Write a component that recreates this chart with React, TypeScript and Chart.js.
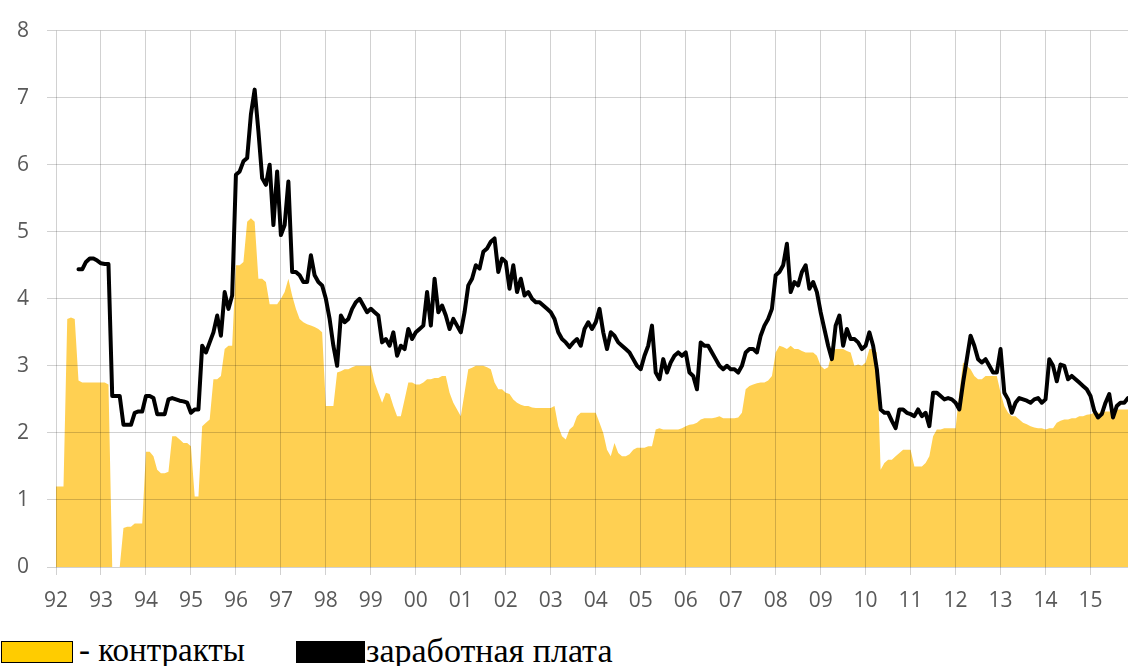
import React, { useEffect, useRef } from 'react';
import { Chart, registerables } from 'chart.js';

Chart.register(...registerables);

// Tick labels (one per January, starting January 1992)
const yearLabels = ['92', '93', '94', '95', '96', '97', '98', '99', '00', '01', '02', '03', '04', '05', '06', '07', '08', '09', '10', '11', '12', '13', '14', '15'];

// Monthly values, January 1992 .. November 2015
const contracts = [
  1.2, 1.2, 1.2, 3.7, 3.72, 3.7, 2.78, 2.75, 2.75, 2.75, 2.75, 2.75,
  2.75, 2.75, 2.72, 0, 0, 0, 0.58, 0.6, 0.6, 0.65, 0.65, 0.65,
  1.72, 1.72, 1.65, 1.45, 1.4, 1.4, 1.42, 1.95, 1.95, 1.9, 1.85, 1.85,
  1.8, 1.05, 1.05, 2.1, 2.15, 2.2, 2.8, 2.8, 2.85, 3.25, 3.3, 3.3,
  4.5, 4.5, 4.55, 5.15, 5.2, 5.15, 4.3, 4.3, 4.25, 3.92, 3.92, 3.92,
  4.0, 4.1, 4.3, 4.05, 3.85, 3.7, 3.65, 3.62, 3.6, 3.58, 3.55, 3.5,
  2.4, 2.4, 2.4, 2.9, 2.92, 2.95, 2.95, 2.98, 3.0, 3.0, 3.0, 3.0,
  3.0, 2.75, 2.6, 2.45, 2.6, 2.58, 2.4, 2.25, 2.25, 2.5, 2.75, 2.75,
  2.72, 2.72, 2.75, 2.8, 2.8, 2.82, 2.82, 2.85, 2.85, 2.6, 2.45, 2.35,
  2.25, 2.6, 2.95, 2.97, 3.0, 3.0, 3.0, 2.98, 2.95, 2.75, 2.65, 2.65,
  2.6, 2.58, 2.5, 2.45, 2.42, 2.4, 2.4, 2.38, 2.37, 2.37, 2.37, 2.37,
  2.37, 2.4, 2.1, 1.95, 1.9, 2.05, 2.1, 2.25, 2.3, 2.3, 2.3, 2.3,
  2.3, 2.15, 2.0, 1.75, 1.65, 1.85, 1.7, 1.65, 1.65, 1.68, 1.75, 1.78,
  1.78, 1.78, 1.8, 1.8, 2.05, 2.07, 2.05, 2.05, 2.05, 2.05, 2.05, 2.07,
  2.1, 2.12, 2.13, 2.15, 2.2, 2.22, 2.22, 2.22, 2.23, 2.25, 2.22, 2.22,
  2.22, 2.22, 2.23, 2.3, 2.65, 2.7, 2.72, 2.74, 2.75, 2.75, 2.78, 2.85,
  3.2, 3.3, 3.28, 3.25, 3.3, 3.25, 3.25, 3.22, 3.2, 3.2, 3.2, 3.15,
  3.0, 2.95, 2.98, 3.2, 3.25, 3.25, 3.25, 3.22, 3.2, 3.0, 3.02, 3.0,
  3.05, 3.25, 3.25, 3.2, 1.45, 1.55, 1.6, 1.6, 1.65, 1.7, 1.75, 1.75,
  1.75, 1.5, 1.5, 1.5, 1.55, 1.65, 1.95, 2.05, 2.05, 2.07, 2.07, 2.07,
  2.07, 2.6, 3.05, 3.0, 2.95, 2.85, 2.8, 2.8, 2.85, 2.85, 2.85, 2.85,
  2.6, 2.4, 2.3, 2.25, 2.25, 2.2, 2.15, 2.13, 2.1, 2.08, 2.07, 2.07,
  2.05, 2.07, 2.07, 2.15, 2.18, 2.2, 2.2, 2.22, 2.22, 2.25, 2.25, 2.27,
  2.28, 2.3, 2.3, 2.3, 2.32, 2.32, 2.33, 2.35, 2.35, 2.35, 2.35,
];

const wages = [
  null, null, null, null, null, null, 4.44, 4.44, 4.55, 4.6, 4.6, 4.57,
  4.53, 4.52, 4.52, 2.55, 2.55, 2.55, 2.12, 2.12, 2.12, 2.3, 2.32, 2.32,
  2.55, 2.55, 2.52, 2.28, 2.28, 2.28, 2.5, 2.52, 2.5, 2.48, 2.47, 2.45,
  2.3, 2.35, 2.35, 3.3, 3.2, 3.35, 3.5, 3.75, 3.45, 4.1, 3.85, 4.05,
  5.85, 5.9, 6.05, 6.1, 6.75, 7.12, 6.5, 5.8, 5.7, 6.0, 5.1, 5.9,
  4.95, 5.1, 5.75, 4.4, 4.4, 4.35, 4.25, 4.25, 4.65, 4.35, 4.25, 4.2,
  4.0, 3.7, 3.3, 3.0, 3.75, 3.65, 3.7, 3.85, 3.95, 4.0, 3.9, 3.8,
  3.85, 3.8, 3.75, 3.35, 3.4, 3.3, 3.5, 3.15, 3.3, 3.25, 3.55, 3.4,
  3.5, 3.55, 3.6, 4.1, 3.6, 4.3, 3.8, 3.9, 3.75, 3.55, 3.7, 3.6,
  3.5, 3.8, 4.2, 4.3, 4.5, 4.45, 4.7, 4.75, 4.85, 4.9, 4.4, 4.6,
  4.55, 4.15, 4.5, 4.1, 4.3, 4.05, 4.1, 4.0, 3.95, 3.95, 3.9, 3.85,
  3.8, 3.7, 3.5, 3.4, 3.35, 3.28, 3.35, 3.4, 3.3, 3.55, 3.65, 3.55,
  3.65, 3.85, 3.5, 3.25, 3.5, 3.45, 3.35, 3.3, 3.25, 3.2, 3.1, 3.0,
  2.95, 3.15, 3.3, 3.6, 2.9, 2.8, 3.1, 2.9, 3.05, 3.15, 3.2, 3.15,
  3.2, 2.9, 2.85, 2.65, 3.35, 3.3, 3.3, 3.2, 3.1, 3.0, 2.95, 3.0,
  2.95, 2.95, 2.9, 3.0, 3.2, 3.25, 3.25, 3.2, 3.45, 3.6, 3.7, 3.85,
  4.35, 4.4, 4.5, 4.82, 4.1, 4.25, 4.2, 4.4, 4.5, 4.15, 4.25, 4.1,
  3.8, 3.55, 3.3, 3.1, 3.6, 3.75, 3.3, 3.55, 3.4, 3.4, 3.35, 3.25,
  3.3, 3.5, 3.3, 2.95, 2.35, 2.3, 2.3, 2.18, 2.07, 2.35, 2.35, 2.3,
  2.28, 2.25, 2.35, 2.25, 2.3, 2.1, 2.6, 2.6, 2.55, 2.5, 2.52, 2.5,
  2.45, 2.35, 2.75, 3.1, 3.45, 3.3, 3.1, 3.05, 3.1, 3.0, 2.9, 2.9,
  3.25, 2.6, 2.5, 2.3, 2.45, 2.52, 2.5, 2.48, 2.45, 2.5, 2.52, 2.45,
  2.5, 3.1, 3.0, 2.77, 3.02, 3.0, 2.8, 2.85, 2.8, 2.75, 2.7, 2.65,
  2.55, 2.33, 2.23, 2.28, 2.45, 2.58, 2.23, 2.4, 2.45, 2.45, 2.52,
];

const yTicks = [0, 1, 2, 3, 4, 5, 6, 7, 8];

const GRID = 'rgba(0,0,0,0.18)';
const TICK_FONT = { family: '"Open Sans", sans-serif', size: 21 };

export default function App() {
  const ref = useRef<HTMLCanvasElement | null>(null);

  useEffect(() => {
    if (!ref.current) return;
    const chart = new Chart(ref.current, {
      type: 'line',
      data: {
        datasets: [
          {
            label: 'заработная плата',
            data: wages.map((y, i) => ({ x: i, y })),
            borderColor: '#000000',
            borderWidth: 4,
            borderJoinStyle: 'round',
            borderCapStyle: 'round',
            pointRadius: 0,
            fill: false,
            tension: 0,
            spanGaps: false,
          },
          {
            label: 'контракты',
            data: contracts.map((y, i) => ({ x: i, y })),
            borderWidth: 0,
            borderColor: 'rgba(0,0,0,0)',
            backgroundColor: '#FFD052',
            fill: 'origin',
            pointRadius: 0,
            tension: 0,
          },
        ],
      } as any,
      options: {
        animation: false,
        responsive: false,
        maintainAspectRatio: false,
        events: [],
        layout: { padding: { top: 27, right: 0, bottom: 0, left: 0 } },
        plugins: { legend: { display: false }, tooltip: { enabled: false } },
        scales: {
          x: {
            type: 'linear',
            min: 0,
            max: contracts.length - 1,
            afterBuildTicks: (s: any) => {
              s.ticks = yearLabels.map((_, i) => ({ value: i * 12 }));
            },
            afterFit: (s: any) => {
              s.height = 65;
            },
            grid: { color: GRID, lineWidth: 1, tickLength: 8, z: 1 },
            border: { display: false },
            ticks: {
              autoSkip: false,
              maxRotation: 0,
              padding: 13,
              color: '#595959',
              font: TICK_FONT,
              callback: (_v: any, i: number) => yearLabels[i],
            },
          },
          y: {
            min: 0,
            max: 8,
            afterBuildTicks: (s: any) => {
              s.ticks = yTicks.map((v) => ({ value: v }));
            },
            afterFit: (s: any) => {
              s.width = 56;
            },
            grid: { color: GRID, lineWidth: 1, tickLength: 9, z: 1 },
            border: { display: false },
            ticks: {
              padding: 18,
              color: '#595959',
              font: TICK_FONT,
            },
          },
        },
      } as any,
    });
    return () => chart.destroy();
  }, []);

  const serif = '"Liberation Serif", "Times New Roman", serif';

  return (
    <div style={{ position: 'absolute', left: 0, top: 0, width: 1128, height: 666, overflow: 'hidden', background: '#fff' }}>
      <canvas ref={ref} width={1128} height={632} style={{ position: 'absolute', left: 0, top: 0, width: 1128, height: 632 }} />
      <div style={{ position: 'absolute', left: 1, top: 641, width: 70, height: 20, background: '#FFCC00', border: '1px solid #000' }} />
      <div style={{ position: 'absolute', left: 79, top: 634, font: `33px ${serif}`, lineHeight: '33px', color: '#000', whiteSpace: 'nowrap' }}>- контракты</div>
      <div style={{ position: 'absolute', left: 296, top: 641, width: 69, height: 22, background: '#000' }} />
      <div style={{ position: 'absolute', left: 366, top: 634, font: `34px ${serif}`, lineHeight: '34px', color: '#000', whiteSpace: 'nowrap' }}>заработная плата</div>
    </div>
  );
}
